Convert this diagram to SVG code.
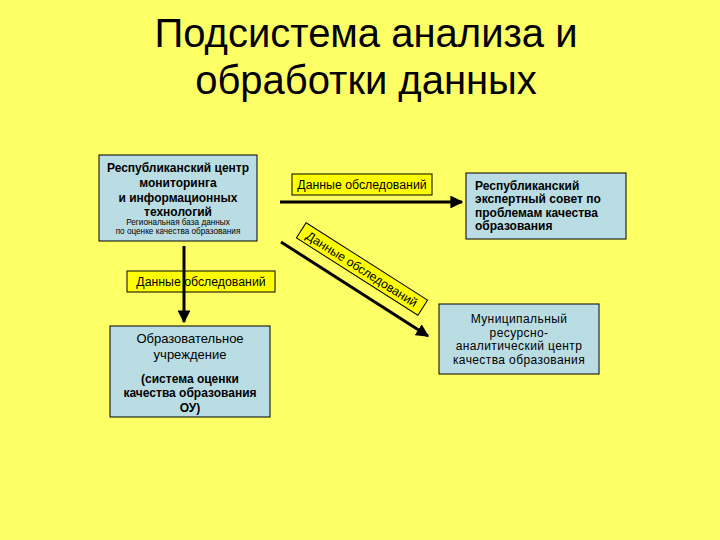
<svg xmlns="http://www.w3.org/2000/svg" width="720" height="540" viewBox="0 0 720 540">
<defs>
<marker id="ah" viewBox="0 0 10 10" refX="9" refY="5" markerWidth="4.3" markerHeight="4.3" orient="auto" markerUnits="strokeWidth">
<path d="M0,0 L10,5 L0,10 z" fill="#000"/>
</marker>
<style>
.t{font-family:"Liberation Sans",Arial,sans-serif;fill:#000}
.title{font-size:40px}
.b{font-weight:bold;font-size:12px}
.n{font-size:13px}
.m{font-size:12px;letter-spacing:0.4px}
.l{font-size:12.3px}
.s{font-size:8.2px}
.box{fill:#BADDE4;stroke:#000;stroke-width:1}
.lab{fill:#FFFF00;stroke:#000;stroke-width:1}
.ar{stroke:#000;stroke-width:3;fill:none;marker-end:url(#ah)}
</style>
</defs>
<rect width="720" height="540" fill="#FFFF66"/>
<g id="title" class="t title" text-anchor="middle">
<text x="366" y="47">Подсистема анализа и</text>
<text x="366" y="94">обработки данных</text>
</g>
<g id="node-center">
<rect class="box" x="99" y="155" width="158" height="86"/>
<g class="t" text-anchor="middle">
<text class="b" x="178" y="172">Республиканский центр</text>
<text class="b" x="178" y="187">мониторинга</text>
<text class="b" x="178" y="202">и информационных</text>
<text class="b" x="178" y="216">технологий</text>
<text class="s" x="178" y="225">Региональная база данных</text>
<text class="s" x="178" y="234">по оценке качества образования</text>
</g>
</g>
<g id="label-top">
<rect class="lab" x="292" y="174" width="140" height="21"/>
<text class="t l" x="362" y="189" text-anchor="middle">Данные обследований</text>
</g>
<g id="node-expert">
<rect class="box" x="466" y="173" width="160" height="66"/>
<g class="t b">
<text x="475" y="190">Республиканский</text>
<text x="475" y="203">экспертный совет по</text>
<text x="475" y="217">проблемам качества</text>
<text x="475" y="230">образования</text>
</g>
</g>
<g id="label-left">
<rect class="lab" x="127" y="271" width="148" height="21"/>
<text class="t l" x="201" y="286" text-anchor="middle">Данные обследований</text>
</g>
<g id="label-diag" transform="translate(362,269) rotate(32.5)">
<rect class="lab" x="-72" y="-9" width="144" height="18"/>
<text class="t l" x="0" y="4.5" text-anchor="middle">Данные обследований</text>
</g>
<g id="node-school">
<rect class="box" x="110" y="326" width="160" height="91"/>
<g class="t" text-anchor="middle">
<text class="n" x="190" y="343">Образовательное</text>
<text class="n" x="190" y="359">учреждение</text>
<text class="b" x="190" y="383">(система оценки</text>
<text class="b" x="190" y="397">качества образования</text>
<text class="b" x="190" y="412">ОУ)</text>
</g>
</g>
<g id="node-municipal">
<rect class="box" x="439" y="304" width="160" height="70"/>
<g class="t m" text-anchor="middle">
<text x="519" y="323">Муниципальный</text>
<text x="519" y="336.5">ресурсно-</text>
<text x="519" y="350">аналитический центр</text>
<text x="519" y="363.5">качества образования</text>
</g>
</g>
<g id="connectors">
<line class="ar" x1="280" y1="202" x2="462" y2="202"/>
<line class="ar" x1="184" y1="246" x2="184" y2="322"/>
<line class="ar" x1="281" y1="242" x2="428" y2="336"/>
</g>
</svg>
